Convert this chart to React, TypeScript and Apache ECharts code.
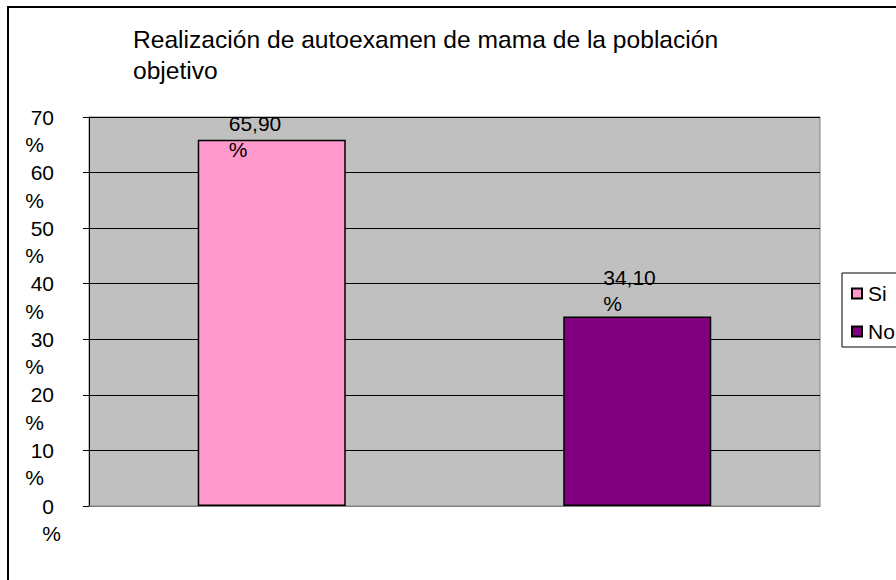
import React, { useEffect, useRef } from "react";
import * as echarts from "echarts";

const titleText = "Realización de autoexamen de mama de la población\nobjetivo";
const categories = ["Si", "No"];
const values = [65.9, 34.1];
const yMin = 0;
const yMax = 70;
const yInterval = 10;

const barColors = ["#FF99CC", "#800080"];
const labelOffsets = [
  [-43, 23],
  [-34, 0],
];
const FONT = "'Liberation Sans', Arial, sans-serif";

export default function App() {
  const ref = useRef<HTMLDivElement>(null);

  useEffect(() => {
    if (!ref.current) return;
    const chart = echarts.init(ref.current, undefined, { renderer: "svg" });
    const fmtPct = (v: number) => v.toFixed(2).replace(".", ",") + "\n%";

    const series = categories.map((name, i) => ({
      name,
      type: "bar",
      stack: "total",
      barWidth: "40.5%",
      itemStyle: { color: barColors[i], borderColor: "#000", borderWidth: 1.5 },
      label: {
        show: true,
        position: "top",
        distance: 0,
        align: "left",
        color: "#000",
        fontSize: 21,
        lineHeight: 26,
        fontFamily: FONT,
        formatter: (p: any) => fmtPct(Number(p.value)),
      },
      data: categories.map((_, j) =>
        j === i ? { value: values[i], label: { offset: labelOffsets[i] } } : "-"
      ),
    }));

    chart.setOption({
      animation: false,
      backgroundColor: "#fff",
      textStyle: { fontFamily: FONT },
      title: {
        text: titleText,
        left: 133,
        top: 24,
        padding: 0,
        textStyle: {
          fontSize: 24.6,
          fontWeight: "normal",
          color: "#000",
          lineHeight: 31,
          fontFamily: FONT,
        },
      },
      graphic: [
        {
          type: "rect",
          z: -10,
          silent: true,
          shape: { x: 8, y: 7, width: 1000, height: 1000 },
          style: { fill: "none", stroke: "#000", lineWidth: 2 },
        },
      ],
      legend: {
        orient: "vertical",
        left: 842,
        top: 273,
        padding: [10, 30, 5, 9],
        itemGap: 17,
        itemWidth: 10,
        itemHeight: 10,
        icon: "rect",
        borderColor: "#000",
        borderWidth: 1,
        backgroundColor: "#fff",
        textStyle: { fontSize: 21, color: "#000", fontFamily: FONT, padding: [0, 0, 0, 1] },
        data: categories,
      },
      grid: {
        left: 89,
        top: 117,
        width: 731,
        height: 389,
        show: true,
        backgroundColor: "#C0C0C0",
        borderColor: "#808080",
        borderWidth: 1,
      },
      xAxis: {
        type: "category",
        data: categories,
        axisLine: { show: true, lineStyle: { color: "#808080", width: 1 } },
        axisTick: { show: false },
        axisLabel: { show: false },
        splitLine: { show: false },
      },
      yAxis: [
        {
          type: "value",
          min: yMin,
          max: yMax,
          interval: yInterval,
          axisLine: { show: true, lineStyle: { color: "#000", width: 1 } },
          axisTick: { show: true, inside: false, length: 6, lineStyle: { color: "#000" } },
          splitLine: { show: true, lineStyle: { color: "#000", width: 1 } },
          axisLabel: {
            margin: 35,
            color: "#000",
            fontSize: 21,
            fontFamily: FONT,
            align: "right",
            verticalAlign: "middle",
            padding: [6, 0, 0, 0],
            formatter: (v: number) => String(v),
          },
        },
        {
          type: "value",
          position: "left",
          min: yMin,
          max: yMax,
          interval: yInterval,
          axisLine: { show: false },
          axisTick: { show: false },
          splitLine: { show: false },
          axisLabel: {
            margin: 28,
            color: "#000",
            fontSize: 21,
            fontFamily: FONT,
            align: "right",
            verticalAlign: "top",
            padding: [17, 0, 0, 0],
            formatter: (v: number) => (v === 0 ? "%" : "{p|%}"),
            rich: {
              p: { fontSize: 21, fontFamily: FONT, color: "#000", padding: [0, 17, 0, 0] },
            },
          },
        },
      ],
      series,
    });

    return () => chart.dispose();
  }, []);

  return (
    <div
      ref={ref}
      style={{ position: "absolute", left: 0, top: 0, width: 896, height: 580, background: "#fff" }}
    />
  );
}
